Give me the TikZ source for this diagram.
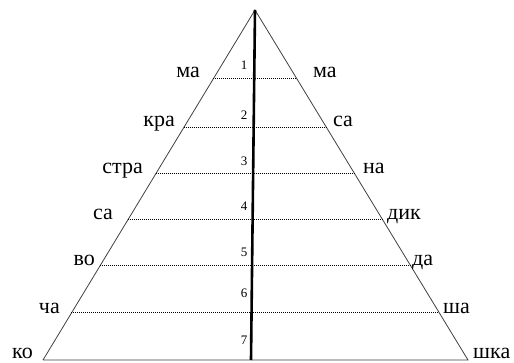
\documentclass[tikz,border=0pt]{standalone}
\usepackage{fontspec}
\setmainfont{Liberation Serif}
\usetikzlibrary{calc}
\begin{document}
\begin{tikzpicture}[x=1pt,y=-1pt,
  side/.style={draw=black!75,line width=0.8pt},
  axis/.style={draw=black,line width=2.6pt},
  level/.style={draw=black,line width=1pt,dash pattern=on 1pt off 1pt},
  syl/.style={font=\fontsize{22}{22}\selectfont,inner sep=0pt},
  num/.style={font=\fontsize{13}{13}\selectfont,inner sep=0pt}]
\useasboundingbox (0,0) rectangle (514,363);
% frame
\coordinate (apex) at (255,10);
\coordinate (bl) at (43,360);
\coordinate (br) at (468,360);
\coordinate (bottom) at (251,360);
\draw[side] (bl) -- (apex) -- (br) -- (bl);
% levels
\foreach \i/\y in {1/79,2/128,3/174,4/220,5/266,6/313}{
  \coordinate (L\i) at ($(apex)!{(\y-10)/350}!(bl)$);
  \coordinate (R\i) at ($(apex)!{(\y-10)/350}!(br)$);
  \draw[level] (L\i) -- (R\i);
}
\draw[axis] (apex) -- (bottom);
% numbers
\foreach \i/\y in {1/65,2/115,3/161,4/206,5/252,6/293,7/340}{
  \node[num] (n\i) at (244,\y) {\i};
}
% left syllables
\node[syl,anchor=base east] (l1) at (200,78) {ма};
\node[syl,anchor=base east] (l2) at (175,127) {кра};
\node[syl,anchor=base east] (l3) at (143,174) {стра};
\node[syl,anchor=base east] (l4) at (113,220) {са};
\node[syl,anchor=base east] (l5) at (95,266) {во};
\node[syl,anchor=base east] (l6) at (60,313) {ча};
\node[syl,anchor=base east] (l7) at (33,358) {ко};
% right syllables
\node[syl,anchor=base west] (r1) at (313,78) {ма};
\node[syl,anchor=base west] (r2) at (333,127) {са};
\node[syl,anchor=base west] (r3) at (363,174) {на};
\node[syl,anchor=base west] (r4) at (387,220) {дик};
\node[syl,anchor=base west] (r5) at (412,266) {да};
\node[syl,anchor=base west] (r6) at (443,313) {ша};
\node[syl,anchor=base west] (r7) at (473,358) {шка};
\end{tikzpicture}
\end{document}
